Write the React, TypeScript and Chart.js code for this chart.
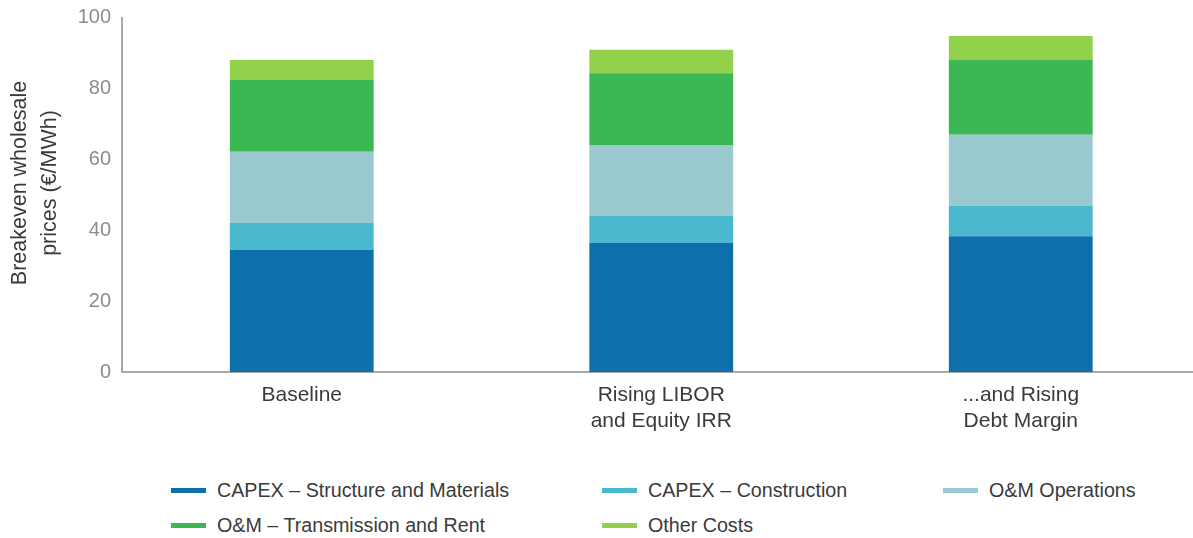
import React, { useEffect, useRef } from "react";
import { Chart, registerables } from "chart.js";

Chart.register(...registerables);

const categories: string[][] = [
  ["Baseline"],
  ["Rising LIBOR", "and Equity IRR"],
  ["...and Rising", "Debt Margin"],
];
const capexStructure = [34.5, 36.4, 38.3];
const capexConstruction = [7.6, 7.7, 8.6];
const omOperations = [20.0, 19.9, 20.0];
const omTransmission = [20.3, 20.3, 21.1];
const otherCosts = [5.6, 6.6, 6.8];
const seriesNames = [
  "CAPEX – Structure and Materials",
  "CAPEX – Construction",
  "O&M Operations",
  "O&M – Transmission and Rent",
  "Other Costs",
];
const seriesColors = ["#0d6fab", "#4ab9cf", "#9acacf", "#3bb753", "#92d14b"];
const yTitle = ["Breakeven wholesale", "prices (€/MWh)"];
const yMin = 0;
const yMax = 100;
const yStep = 20;

const FONT = "'Liberation Sans', Arial, Helvetica, sans-serif";

const yTitlePlugin = {
  id: "yTitlePlugin",
  afterDraw(chart: any) {
    const ctx = chart.ctx;
    ctx.save();
    ctx.fillStyle = "#3a3a3a";
    ctx.font = `21.5px ${FONT}`;
    ctx.textAlign = "center";
    ctx.textBaseline = "middle";
    const cy = 183;
    yTitle.forEach((line, i) => {
      ctx.save();
      ctx.translate(20 + i * 30, cy);
      ctx.rotate(-Math.PI / 2);
      ctx.fillText(line, 0, 0);
      ctx.restore();
    });
    ctx.restore();
  },
};

export default function App() {
  const ref = useRef<HTMLCanvasElement | null>(null);

  useEffect(() => {
    if (!ref.current) return;
    const values = [capexStructure, capexConstruction, omOperations, omTransmission, otherCosts];
    const chart = new Chart(ref.current, {
      type: "bar",
      data: {
        labels: categories as any,
        datasets: values.map((v, i) => ({
          label: seriesNames[i],
          data: v,
          backgroundColor: seriesColors[i],
          borderWidth: 0,
          barPercentage: 0.4,
          categoryPercentage: 1,
        })),
      },
      plugins: [yTitlePlugin],
      options: {
        responsive: false,
        devicePixelRatio: 1,
        animation: false,
        layout: { padding: { top: 0, right: 9.5, left: 0, bottom: 0 } },
        plugins: { legend: { display: false }, tooltip: { enabled: false } },
        scales: {
          x: {
            stacked: true,
            offset: true,
            grid: { display: false, drawTicks: false },
            border: { display: true, color: "#a8a8a8", width: 2 },
            ticks: {
              color: "#3a3a3a",
              font: { size: 21, family: FONT, lineHeight: 1.2 },
              padding: 11,
              maxRotation: 0,
              autoSkip: false,
            },
            afterFit: (s: any) => {
              s.height = 98;
            },
          },
          y: {
            stacked: true,
            min: yMin,
            max: yMax,
            grid: { display: false, drawTicks: false },
            border: { display: true, color: "#a8a8a8", width: 2 },
            ticks: {
              stepSize: yStep,
              color: "#8c8c8c",
              font: { size: 20, family: FONT },
              padding: 11,
            },
            title: { display: false },
            afterFit: (s: any) => {
              s.width = 122;
              s.paddingTop = 17.5;
            },
          },
        },
      },
    });
    return () => chart.destroy();
  }, []);

  const colLeft = [171, 602, 943];
  const rowTop = [478, 513];

  return (
    <div
      style={{
        position: "fixed",
        left: 0,
        top: 0,
        width: 1193,
        height: 538,
        overflow: "hidden",
        background: "#fff",
      }}
    >
      <canvas
        ref={ref}
        width={1210}
        height={470}
        style={{ position: "absolute", left: 0, top: 0, width: 1210, height: 470, display: "block" }}
      />
      {seriesNames.map((name, i) => (
        <div
          key={name}
          style={{
            position: "absolute",
            left: colLeft[i % 3],
            top: rowTop[Math.floor(i / 3)],
            height: 24,
            display: "flex",
            alignItems: "center",
            fontFamily: FONT,
            fontSize: 19.7,
            color: "#3a3a3a",
            whiteSpace: "nowrap",
          }}
        >
          <span
            style={{
              display: "inline-block",
              width: 35,
              height: 5,
              background: seriesColors[i],
              marginRight: 11,
            }}
          />
          <span>{name}</span>
        </div>
      ))}
    </div>
  );
}
